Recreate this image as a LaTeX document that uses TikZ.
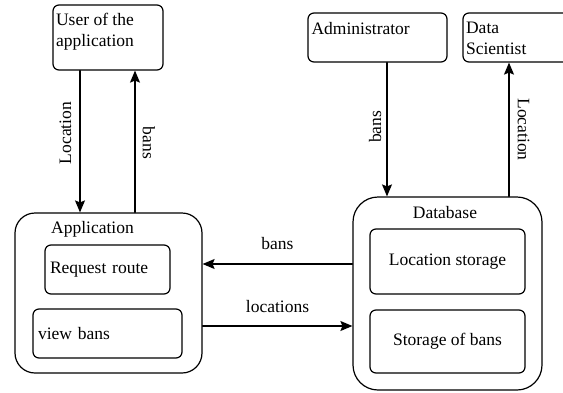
\documentclass[tikz,border=0pt]{standalone}
\usepackage{fontspec}
\setmainfont{LiberationSerif}[Extension=.ttf, UprightFont=*-Regular]
\usetikzlibrary{arrows.meta}

\tikzset{
  box/.style={draw, line width=1.2pt, rounded corners=6pt, inner sep=0pt},
  bigbox/.style={draw, line width=1.2pt, rounded corners=#1, inner sep=0pt},
  flow/.style={line width=1.2pt}
}

\begin{document}
\begin{tikzpicture}[line cap=round,line join=round,>={Stealth[length=12pt,width=10pt,inset=2pt]},x=1pt,y=-1pt,
  font=\rmfamily\fontsize{17.5}{21}\selectfont]
      \useasboundingbox (0,0) rectangle (563,392);
      \clip (0,0) rectangle (563,392);
      % actors
      \node[box, minimum width=110pt, minimum height=65pt,
        label={[anchor=north west, align=left, inner xsep=3.5pt, inner ysep=9pt]north west:User of the\\application}] (user) at (108,37.5) {};
      \node[box, minimum width=139pt, minimum height=49pt,
        label={[anchor=north west, inner xsep=4pt, inner ysep=10pt]north west:Administrator}] (admin) at (377.5,37.5) {};
      \node[box, minimum width=120pt, minimum height=49pt,
        label={[anchor=north west, align=left, inner xsep=3.5pt, inner ysep=9pt]north west:Data\\Scientist}] (ds) at (523,37.5) {};
      % application
      \node[bigbox=20pt, minimum width=187pt, minimum height=160pt,
        label={[anchor=north, inner sep=0pt, xshift=-16pt, yshift=-9pt]north:Application}] (app) at (108.5,293) {};
      \node[box, text width=115pt, align=left, inner xsep=5pt, minimum height=49pt] (route) at (107.5,269.5) {Request route};
      \node[box, text width=139pt, align=left, inner xsep=5pt, minimum height=49pt] (view) at (107.5,333.5) {view bans};
      % database
      \node[bigbox=25pt, minimum width=189pt, minimum height=193pt,
        label={[anchor=north, inner sep=0pt, xshift=-2.5pt, yshift=-10pt]north:Database}] (db) at (447.5,293.5) {};
      \node[box, minimum width=155pt, minimum height=65pt] (locstore) at (447.5,261.5) {Location storage};
      \node[box, minimum width=155pt, minimum height=63pt] (banstore) at (447.5,341.5) {Storage of bans};
      % flows
      \draw[flow,->] (80,0 |- user.south) -- (80,0 |- app.north)
        node[pos=0.44, anchor=south, rotate=90, inner sep=8pt] (userloc) {Location};
      \draw[flow,->] (135,0 |- app.north) -- (135,0 |- user.south)
        node[pos=0.49, anchor=south, rotate=-90, inner sep=7pt] (userbans) {bans};
      \draw[flow,->] (387,0 |- admin.south) -- (387,0 |- db.north)
        node[pos=0.48, anchor=south, rotate=90, inner sep=5pt] (adminbans) {bans};
      \draw[flow,->] (509,0 |- db.north) -- (509,0 |- ds.south)
        node[pos=0.5, anchor=south, rotate=-90, inner sep=8pt] (dsloc) {Location};
      \draw[flow,->] (db.west |- 0,264) -- (app.east |- 0,264)
        node[midway, above=10pt] (dbbans) {bans};
      \draw[flow,->] (app.east |- 0,326) -- (db.west |- 0,326)
        node[midway, above=9pt] (applocs) {locations};
\end{tikzpicture}
\end{document}
